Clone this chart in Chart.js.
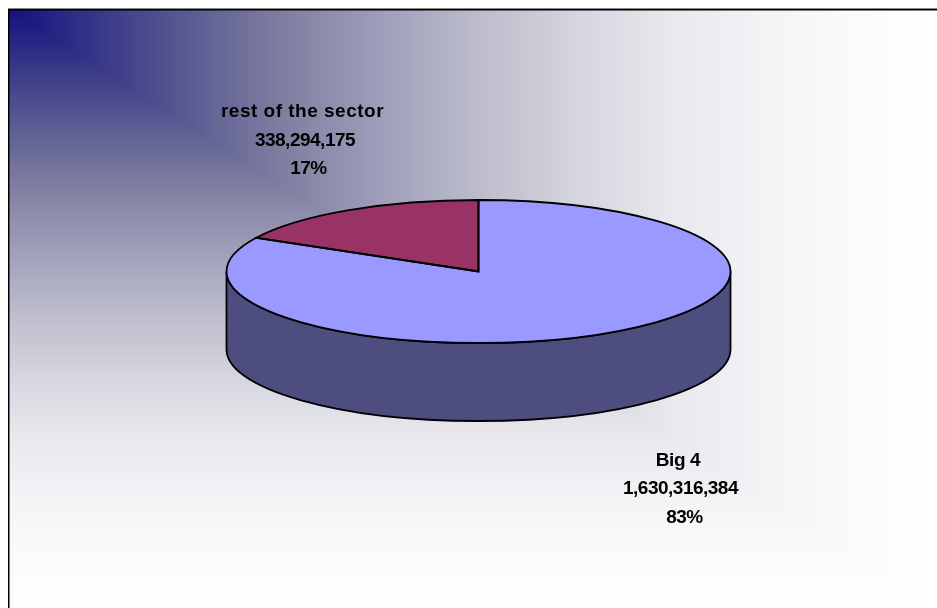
<!DOCTYPE html>
<html>
<head>
<meta charset="utf-8">
<style>
    html, body { margin: 0; padding: 0; background: #fff; overflow: hidden; }
    canvas { display: block; }
</style>
<script src="https://cdn.jsdelivr.net/npm/chart.js@4"></script>
</head>
<body>
<canvas id="Chart" width="937" height="608"></canvas>
<script>
const categories = ['Big 4', 'rest of the sector'];
const seriesValues = [1630316384, 338294175];
const sliceColors = ['#9999FF', '#993366'];
const WALL_COLOR = '#4D4D80';

// pie is laid out as a circle, then flattened into an ellipse when drawn
const CENTER_Y = 271.5;
const SQUASH = 71.5 / 252;
const DEPTH = 78;

// label line centres and tracking, one list per slice
const labelX = [[678, 680.5, 684.5], [302.5, 305, 308.5]];
const labelY = [[461, 489, 518], [112, 141, 169]];
const labelTracking = [[-0.4, -0.5, -0.5], [0.5, -0.5, -0.5]];

// panel shading, corner gradient: distance from top left (0..1) against colour
const shadeStops = [
    [0, 18, 18, 126],
    [0.102, 58, 58, 136],
    [0.205, 95, 95, 148],
    [0.29, 125, 125, 160],
    [0.4, 158, 158, 186],
    [0.51, 189, 189, 204],
    [0.615, 214, 214, 224],
    [0.72, 233, 233, 238],
    [0.82, 244, 244, 247],
    [0.9, 250, 250, 251],
    [1, 255, 255, 255]
];

const shadeColor = (t) => {
    let i = 0;
    while (i < shadeStops.length - 2 && t > shadeStops[i + 1][0]) i++;
    const a = shadeStops[i], b = shadeStops[i + 1];
    const k = (t - a[0]) / (b[0] - a[0]);
    return [1, 2, 3].map(c => a[c] + (b[c] - a[c]) * k);
}

const panelPlugin = {
    id: 'panel',
    beforeDraw(chart) {
        const ctx = chart.ctx;
        const w = chart.width, h = chart.height;
        const img = ctx.createImageData(w, h);
        for (let y = 0; y < h; y++) {
            for (let x = 0; x < w; x++) {
                const p = (y * w + x) * 4;
                let rgb = [255, 255, 255];
                if (x >= 9 && y >= 9) {
                    rgb = shadeColor(Math.max((x - 9) / 928, (y - 9) / 599));
                }
                img.data[p] = rgb[0];
                img.data[p + 1] = rgb[1];
                img.data[p + 2] = rgb[2];
                img.data[p + 3] = 255;
            }
        }
        ctx.putImageData(img, 0, 0);
        ctx.save();
        ctx.fillStyle = '#8a8a8a';
        ctx.fillRect(8, 8, w - 8, 1);
        ctx.fillStyle = '#000';
        ctx.fillRect(8, 9, w - 8, 1.5);
        ctx.fillRect(8, 9, 1.5, h - 9);
        ctx.restore();
    }
};

const pie3dPlugin = {
    id: 'pie3d',
    beforeDatasetsDraw(chart) {
        const ctx = chart.ctx;
        const arcs = chart.getDatasetMeta(0).data.map(a => a.getProps(['x', 'y', 'startAngle', 'endAngle', 'outerRadius'], true));
        // side wall, only the part of each slice facing front
        arcs.forEach(arc => {
            const from = Math.max(arc.startAngle, 0);
            const to = Math.min(arc.endAngle, Math.PI);
            if (to <= from) return;
            const r = arc.outerRadius;
            ctx.save();
            ctx.beginPath();
            ctx.ellipse(arc.x, CENTER_Y, r, r * SQUASH, 0, from, to);
            ctx.ellipse(arc.x, CENTER_Y + DEPTH, r, r * SQUASH, 0, to, from, true);
            ctx.closePath();
            ctx.fillStyle = WALL_COLOR;
            ctx.fill();
            ctx.strokeStyle = '#000';
            ctx.lineWidth = 1.8;
            ctx.stroke();
            ctx.restore();
        });
        ctx.save();
        const first = arcs[0];
        ctx.translate(first.x, CENTER_Y);
        ctx.scale(1, SQUASH);
        ctx.translate(-first.x, -first.y);
    },
    afterDatasetsDraw(chart) {
        const ctx = chart.ctx;
        ctx.restore();
        const meta = chart.getDatasetMeta(0);
        const total = seriesValues.reduce((a, b) => a + b, 0);
        meta.data.forEach((el, i) => {
            const arc = el.getProps(['x', 'y', 'startAngle', 'endAngle', 'outerRadius'], true);
            // outline stroked after the flattening so the pen stays even
            ctx.save();
            ctx.beginPath();
            ctx.moveTo(arc.x, CENTER_Y);
            ctx.ellipse(arc.x, CENTER_Y, arc.outerRadius, arc.outerRadius * SQUASH, 0, arc.startAngle, arc.endAngle);
            ctx.closePath();
            ctx.strokeStyle = '#000';
            ctx.lineWidth = 1.8;
            ctx.stroke();
            ctx.restore();

            const lines = [
                categories[i],
                seriesValues[i].toLocaleString('en-US'),
                Math.round(seriesValues[i] / total * 100) + '%'
            ];
            ctx.save();
            ctx.font = 'bold 19px "Liberation Sans"';
            ctx.fillStyle = '#000';
            ctx.textAlign = 'center';
            ctx.textBaseline = 'middle';
            lines.forEach((line, n) => {
                ctx.letterSpacing = labelTracking[i][n] + 'px';
                ctx.fillText(line, labelX[i][n], labelY[i][n]);
            });
            ctx.restore();
        });
    }
};

const config = {
    type: 'pie',
    data: {
        labels: categories,
        datasets: [{
            data: seriesValues,
            backgroundColor: sliceColors,
            borderWidth: 0
        }]
    },
    options: {
        responsive: false,
        animation: false,
        layout: { padding: { left: 226.5, right: 206.5, top: 52, bottom: 52 } },
        plugins: {
            legend: { display: false },
            tooltip: { enabled: false }
        }
    },
    plugins: [panelPlugin, pie3dPlugin]
};

const myChart = new Chart(document.getElementById('Chart'), config);
</script>
</body>
</html>
